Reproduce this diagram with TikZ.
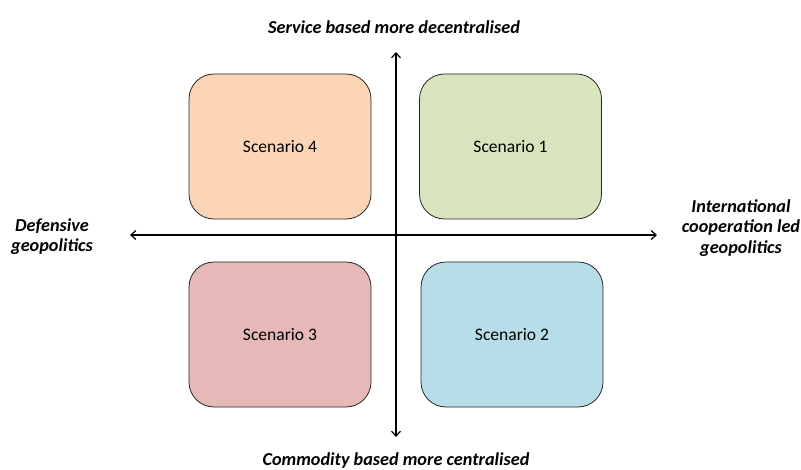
\documentclass[tikz,border=0pt]{standalone}
\usepackage{fontspec}
\setmainfont{Carlito}
\usetikzlibrary{arrows.meta}
\definecolor{cOrange}{HTML}{FBD5B5}
\definecolor{cGreen}{HTML}{D7E4BD}
\definecolor{cRed}{HTML}{E6B9B8}
\definecolor{cBlue}{HTML}{B7DEE8}
\begin{document}
\begin{tikzpicture}[x=1bp,y=-1bp,
  scen/.style={draw=black!85, line width=0.8bp, rounded corners=25bp, minimum width=182bp, minimum height=145bp, inner sep=0pt, font=\fontsize{17.6}{20}\selectfont},
  axis/.style={line width=1.2bp, {Straight Barb[length=5bp,width=9bp]}-{Straight Barb[length=5bp,width=9bp]}},
  lab/.style={font=\fontsize{18.3}{20.6}\selectfont\bfseries\itshape, align=center, inner sep=0pt}]
\useasboundingbox (0,0) rectangle (801,470);
\node[scen, fill=cOrange] (s4) at (280,146.5) {Scenario 4};
\node[scen, fill=cGreen] (s1) at (510.5,146.5) {Scenario 1};
\node[scen, fill=cRed] (s3) at (280,334.5) {Scenario 3};
\node[scen, fill=cBlue] (s2) at (512,334.5) {Scenario 2};
\coordinate (top) at (396,52);
\coordinate (bot) at (396,437);
\coordinate (lft) at (130,235);
\coordinate (rgt) at (657,235);
\draw[axis] (top) -- (bot);
\draw[axis] (lft) -- (rgt);
\node[lab] (tl) at (394,27) {Service based more decentralised};
\node[lab] (bl) at (396,461) {Commodity based more centralised};
\node[lab] (ll) at (52,236.5) {Defensive\\geopolitics};
\node[lab] (rl) at (741,228) {International\\cooperation led\\geopolitics};
\end{tikzpicture}
\end{document}
